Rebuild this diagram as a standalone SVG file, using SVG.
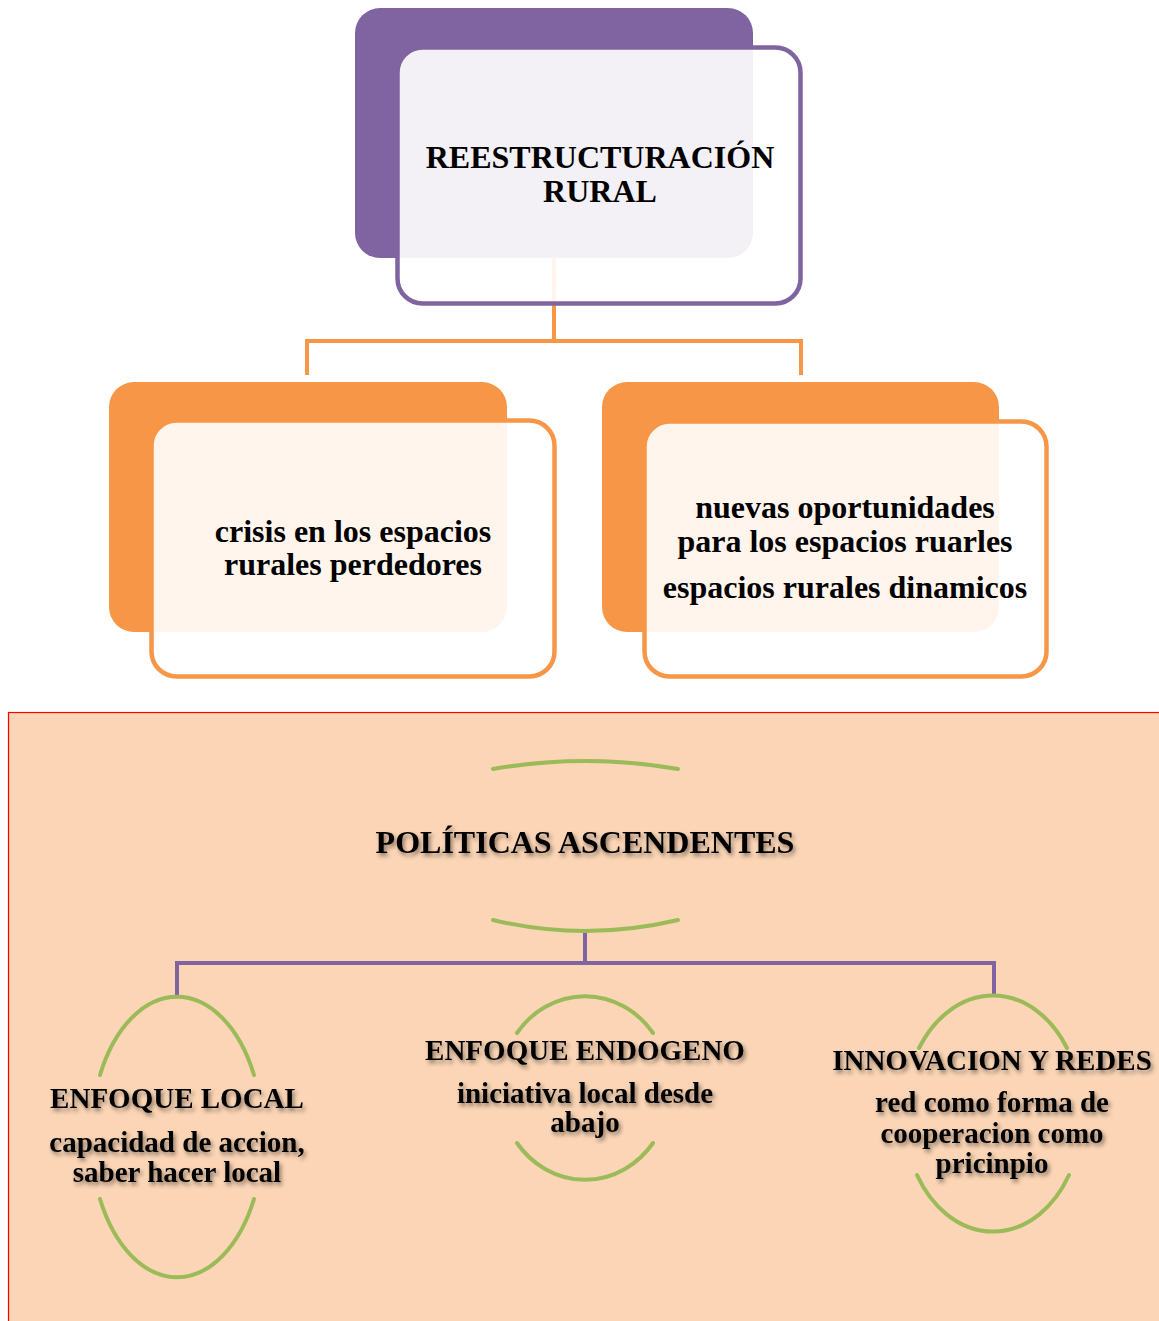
<svg xmlns="http://www.w3.org/2000/svg" width="1159" height="1321" viewBox="0 0 1159 1321">
<style>
.t{font-family:"Liberation Serif","Times New Roman",serif;font-weight:bold;fill:#000;text-anchor:middle}
.big{font-size:32px}
.mid{font-size:29px}
.back-p{fill:#8064A2}
.front-p{fill:#fff;fill-opacity:0.9;stroke:#8064A2;stroke-width:4.5}
.back-o{fill:#F79646}
.front-o{fill:#fff;fill-opacity:0.9;stroke:#F79646;stroke-width:4.5}
.con-o{fill:none;stroke:#F79646;stroke-width:4}
.con-p{fill:none;stroke:#8064A2;stroke-width:4}
.arc{fill:none;stroke:#9BBB59;stroke-width:4;stroke-linecap:round}
</style>
<defs>
<filter id="sh" x="-10%" y="-40%" width="130%" height="190%">
<feDropShadow dx="2" dy="3" stdDeviation="2" flood-color="#000" flood-opacity="0.45"/>
</filter>
</defs>
<rect id="panel" x="8.5" y="712.5" width="1160" height="620" fill="#FBD5B5" stroke="#FF0000" stroke-width="1.2"/>
<g id="connectors">
<path class="con-o" d="M554,258 V341 M307,375 V341 H801 V375"/>
<path class="con-p" d="M585,930 V963 M177,997 V963 H994 V997"/>
</g>
<g id="node-reestructuracion">
<rect class="back-p" x="355" y="8" width="398" height="250" rx="25"/>
<rect class="front-p" x="397.5" y="47.5" width="403" height="256" rx="25"/>
<text class="t big" x="600" y="168">REESTRUCTURACIÓN</text>
<text class="t big" x="600" y="202">RURAL</text>
</g>
<g id="node-crisis">
<rect class="back-o" x="109" y="382" width="398" height="250" rx="25"/>
<rect class="front-o" x="151.5" y="420.5" width="403" height="256" rx="25"/>
<text class="t big" x="353" y="542">crisis en los espacios</text>
<text class="t big" x="353" y="575">rurales perdedores</text>
</g>
<g id="node-nuevas">
<rect class="back-o" x="602" y="382" width="397" height="250" rx="25"/>
<rect class="front-o" x="644.5" y="421.5" width="402" height="255" rx="25"/>
<text class="t big" x="845" y="518">nuevas oportunidades</text>
<text class="t big" x="845" y="552">para los espacios ruarles</text>
<text class="t big" x="845" y="598">espacios rurales dinamicos</text>
</g>
<g id="node-politicas">
<path class="arc" d="M493,769 Q585,753 678,769"/>
<path class="arc" d="M493,920 Q585,942 678,920"/>
<text class="t big" x="585" y="853" filter="url(#sh)">POLÍTICAS ASCENDENTES</text>
</g>
<g id="node-enfoque-local">
<path class="arc" d="M100,1075 A86,141 0 0 1 254,1075"/>
<path class="arc" d="M100,1199 A86,141 0 0 0 254,1199"/>
<text class="t mid" x="177" y="1108" filter="url(#sh)">ENFOQUE LOCAL</text>
<text class="t mid" x="177" y="1152" filter="url(#sh)">capacidad de accion,</text>
<text class="t mid" x="177" y="1182" filter="url(#sh)">saber hacer local</text>
</g>
<g id="node-enfoque-endogeno">
<path class="arc" d="M517,1033 A85,92 0 0 1 653,1033"/>
<path class="arc" d="M517,1143 A85,92 0 0 0 653,1143"/>
<text class="t mid" x="585" y="1060" filter="url(#sh)">ENFOQUE ENDOGENO</text>
<text class="t mid" x="585" y="1103" filter="url(#sh)">iniciativa local desde</text>
<text class="t mid" x="585" y="1132" filter="url(#sh)">abajo</text>
</g>
<g id="node-innovacion">
<path class="arc" d="M919,1048 A89,118 0 0 1 1067,1048"/>
<path class="arc" d="M917,1175 A89,118 0 0 0 1069,1175"/>
<text class="t mid" x="992" y="1070" filter="url(#sh)">INNOVACION Y REDES</text>
<text class="t mid" x="992" y="1112" filter="url(#sh)">red como forma de</text>
<text class="t mid" x="992" y="1143" filter="url(#sh)">cooperacion como</text>
<text class="t mid" x="992" y="1173" filter="url(#sh)">pricinpio</text>
</g>
</svg>
